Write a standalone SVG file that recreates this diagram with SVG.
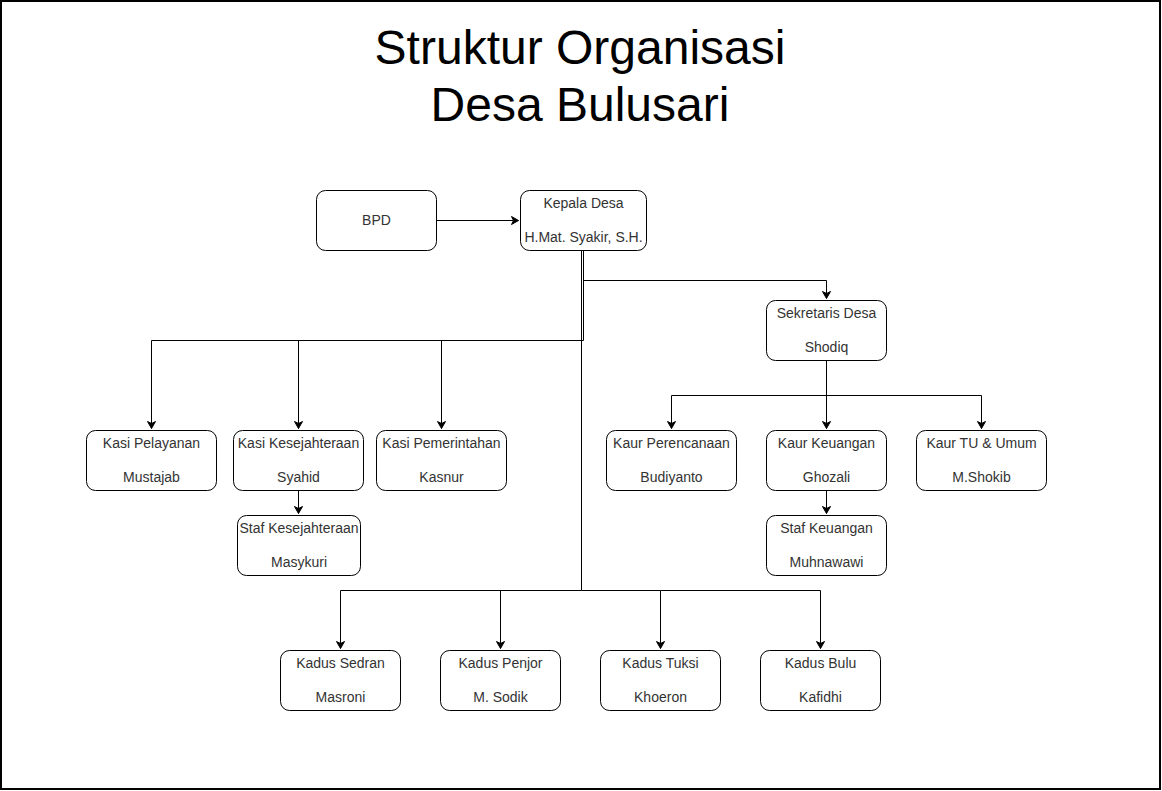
<svg xmlns="http://www.w3.org/2000/svg" width="1162" height="791" viewBox="0 0 1162 791">
<style>
.box{fill:#fff;stroke:#000;stroke-width:1}
.t{font-family:"Liberation Sans",Arial,sans-serif;font-size:14px;fill:#333;text-anchor:middle}
.title{font-family:"Liberation Sans",Arial,sans-serif;font-size:48px;fill:#000;text-anchor:middle}
.c{fill:none;stroke:#000;stroke-width:1}
</style>
<defs>
<marker id="arr" markerWidth="10" markerHeight="10" refX="8" refY="5" orient="auto" markerUnits="userSpaceOnUse">
<path d="M1,1 L8,5 L1,9 L3,5 Z" fill="#000" stroke="#000" stroke-width="1"/>
</marker>
</defs>
<rect x="1" y="1" width="1159" height="788" fill="#fff" stroke="#000" stroke-width="2"/>
<text class="title" x="580" y="64">Struktur Organisasi</text>
<text class="title" x="580" y="121">Desa Bulusari</text>

<g id="connectors">
<path class="c" d="M436.5,220.5 H518.5" marker-end="url(#arr)"/>
<path class="c" d="M583.5,250.5 V280.5 H826.5 V298.5" marker-end="url(#arr)"/>
<path class="c" d="M583.5,250.5 V340.5 H151.5 V428.5" marker-end="url(#arr)"/>
<path class="c" d="M298.5,340.5 V428.5" marker-end="url(#arr)"/>
<path class="c" d="M441.5,340.5 V428.5" marker-end="url(#arr)"/>
<path class="c" d="M298.5,490.5 V513.5" marker-end="url(#arr)"/>
<path class="c" d="M581.5,250.5 V590.5 H340.5 V648.5" marker-end="url(#arr)"/>
<path class="c" d="M500.5,590.5 V648.5" marker-end="url(#arr)"/>
<path class="c" d="M581.5,590.5 H660.5 V648.5" marker-end="url(#arr)"/>
<path class="c" d="M660.5,590.5 H820.5 V648.5" marker-end="url(#arr)"/>
<path class="c" d="M826.5,360.5 V428.5" marker-end="url(#arr)"/>
<path class="c" d="M826.5,395.5 H671.5 V428.5" marker-end="url(#arr)"/>
<path class="c" d="M826.5,395.5 H981.5 V428.5" marker-end="url(#arr)"/>
<path class="c" d="M826.5,490.5 V513.5" marker-end="url(#arr)"/>
</g>

<g id="bpd"><rect class="box" x="316.5" y="190.5" width="120" height="60" rx="9"/><text class="t" x="376.5" y="225">BPD</text></g>
<g id="kepala"><rect class="box" x="520.5" y="190.5" width="126" height="60" rx="9"/><text class="t" x="583.5" y="208">Kepala Desa</text><text class="t" x="583.5" y="242">H.Mat. Syakir, S.H.</text></g>
<g id="sekretaris"><rect class="box" x="766.5" y="300.5" width="120" height="60" rx="9"/><text class="t" x="826.5" y="318">Sekretaris Desa</text><text class="t" x="826.5" y="352">Shodiq</text></g>

<g id="kasi-pelayanan"><rect class="box" x="86.5" y="430.5" width="130" height="60" rx="9"/><text class="t" x="151.5" y="448">Kasi Pelayanan</text><text class="t" x="151.5" y="482">Mustajab</text></g>
<g id="kasi-kesejahteraan"><rect class="box" x="233.5" y="430.5" width="130" height="60" rx="9"/><text class="t" x="298.5" y="448">Kasi Kesejahteraan</text><text class="t" x="298.5" y="482">Syahid</text></g>
<g id="kasi-pemerintahan"><rect class="box" x="376.5" y="430.5" width="130" height="60" rx="9"/><text class="t" x="441.5" y="448">Kasi Pemerintahan</text><text class="t" x="441.5" y="482">Kasnur</text></g>
<g id="staf-kesejahteraan"><rect class="box" x="237.5" y="515.5" width="123" height="60" rx="9"/><text class="t" x="299" y="533">Staf Kesejahteraan</text><text class="t" x="299" y="567">Masykuri</text></g>

<g id="kaur-perencanaan"><rect class="box" x="606.5" y="430.5" width="130" height="60" rx="9"/><text class="t" x="671.5" y="448">Kaur Perencanaan</text><text class="t" x="671.5" y="482">Budiyanto</text></g>
<g id="kaur-keuangan"><rect class="box" x="766.5" y="430.5" width="120" height="60" rx="9"/><text class="t" x="826.5" y="448">Kaur Keuangan</text><text class="t" x="826.5" y="482">Ghozali</text></g>
<g id="kaur-tu"><rect class="box" x="916.5" y="430.5" width="130" height="60" rx="9"/><text class="t" x="981.5" y="448">Kaur TU &amp; Umum</text><text class="t" x="981.5" y="482">M.Shokib</text></g>
<g id="staf-keuangan"><rect class="box" x="766.5" y="515.5" width="120" height="60" rx="9"/><text class="t" x="826.5" y="533">Staf Keuangan</text><text class="t" x="826.5" y="567">Muhnawawi</text></g>

<g id="kadus-sedran"><rect class="box" x="280.5" y="650.5" width="120" height="60" rx="9"/><text class="t" x="340.5" y="668">Kadus Sedran</text><text class="t" x="340.5" y="702">Masroni</text></g>
<g id="kadus-penjor"><rect class="box" x="440.5" y="650.5" width="120" height="60" rx="9"/><text class="t" x="500.5" y="668">Kadus Penjor</text><text class="t" x="500.5" y="702">M. Sodik</text></g>
<g id="kadus-tuksi"><rect class="box" x="600.5" y="650.5" width="120" height="60" rx="9"/><text class="t" x="660.5" y="668">Kadus Tuksi</text><text class="t" x="660.5" y="702">Khoeron</text></g>
<g id="kadus-bulu"><rect class="box" x="760.5" y="650.5" width="120" height="60" rx="9"/><text class="t" x="820.5" y="668">Kadus Bulu</text><text class="t" x="820.5" y="702">Kafidhi</text></g>
</svg>
